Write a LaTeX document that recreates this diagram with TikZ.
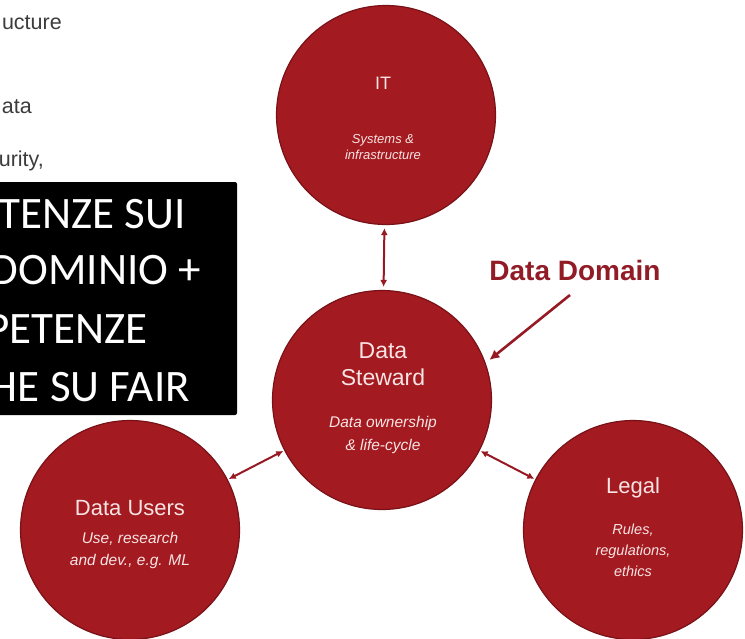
\documentclass[tikz,border=0pt]{standalone}
\usepackage{fontspec}
\setmainfont{Liberation Sans}
\newfontfamily\calib{Carlito}
\usetikzlibrary{arrows.meta}
\definecolor{circfill}{RGB}{163,26,32}
\definecolor{circline}{RGB}{120,18,24}
\definecolor{circtext}{RGB}{248,228,228}
\definecolor{arrowred}{RGB}{150,25,35}
\definecolor{domainred}{RGB}{145,28,38}
\definecolor{graytext}{RGB}{60,60,60}
\tikzset{
  bubble/.style={circle, fill=circfill, draw=circline, line width=1.2pt, minimum size=219pt, inner sep=0pt},
  ctitle/.style={anchor=base, text=circtext, font=\fontsize{#1}{#1}\selectfont, inner sep=0pt},
  csub/.style={anchor=base, text=circtext, font=\fontsize{#1}{#1}\selectfont\itshape, inner sep=0pt},
  link/.style={draw=arrowred, line width=2pt, {Latex[length=7pt,width=7pt]}-{Latex[length=7pt,width=7pt]}},
  pointer/.style={draw=arrowred, line width=2.6pt, -{Latex[length=10pt,width=10pt]}},
  boxtext/.style={anchor=base east, text=white, font=\calib\fontsize{45}{45}\selectfont, inner sep=0pt},
  sidetext/.style={anchor=base east, text=graytext, font=\fontsize{21.5}{21.5}\selectfont, inner sep=0pt}
}
\begin{document}
\begin{tikzpicture}[x=1pt,y=-1pt]
\useasboundingbox (0,0) rectangle (745,638);
\clip (0,0) rectangle (745,638);
% side texts
\node[sidetext] (s1) at (62,29) {ucture};
\node[sidetext] (s2) at (32,113) {ata};
\node[sidetext] (s3) at (44,166) {urity,};
% circles
\node[bubble] (it) at (386,115) {};
\node[bubble] (steward) at (382,400) {};
\node[bubble] (users) at (130,530) {};
\node[bubble] (legal) at (633,530) {};
% circle texts
\node[ctitle=18] (itt) at (383,89) {IT};
\node[csub=13] (its1) at (383,143) {Systems \&};
\node[csub=13] (its2) at (383,159) {infrastructure};
\node[ctitle=23] (st1) at (383,358) {Data};
\node[ctitle=23] (st2) at (383,385) {Steward};
\node[csub=15.5] (sts1) at (383,427) {Data ownership};
\node[csub=15.5] (sts2) at (383,450) {\& life-cycle};
\node[ctitle=22] (ut) at (130,515) {Data Users};
\node[csub=15.5] (us1) at (130,543) {Use, research};
\node[csub=15.5] (us2) at (130,565) {and dev., e.g. ML};
\node[ctitle=22] (lt) at (633,493) {Legal};
\node[csub=14.5] (ls1) at (633,534) {Rules,};
\node[csub=14.5] (ls2) at (633,555) {regulations,};
\node[csub=14.5] (ls3) at (633,576) {ethics};
% connectors
\draw[link, shorten <=3pt, shorten >=3pt] (it) -- (steward);
\draw[link, shorten <=1pt, shorten >=1pt] (users) -- (steward);
\draw[link, shorten <=1pt, shorten >=1pt] (steward) -- (legal);
% data domain
\node[anchor=base, text=domainred, font=\bfseries\fontsize{28}{28}\selectfont, inner sep=0pt] (domain) at (575,280) {Data Domain};
\coordinate (ddstart) at (570,295);
\draw[pointer] (ddstart) -- ([shift={(6pt,-3pt)}]steward.23);
% black box
\fill[black, rounded corners=2pt] (-10,182) rectangle (237,415);
\node[boxtext] (b1) at (186,228) {TENZE SUI};
\node[boxtext] (b2) at (201,284) {DOMINIO +};
\node[boxtext] (b3) at (148,343) {PETENZE};
\node[boxtext] (b4) at (190,401) {HE SU FAIR};
\end{tikzpicture}
\end{document}
